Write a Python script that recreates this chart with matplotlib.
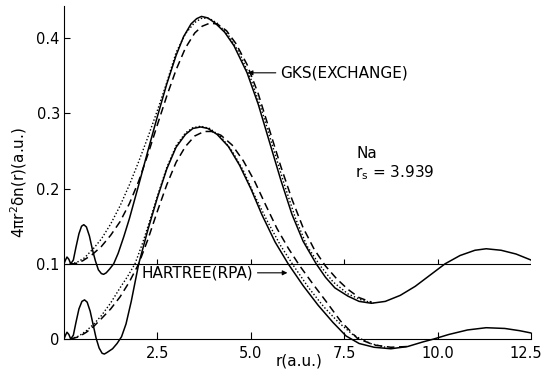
import numpy as np
import matplotlib
matplotlib.use('Agg')
import matplotlib.pyplot as plt
from matplotlib.transforms import ScaledTranslation

# GKS (exchange) curves, drawn on the 0.1 baseline
gks_solid_r = [0.00, 0.04, 0.08, 0.13, 0.18, 0.25, 0.32, 0.40, 0.47, 0.53, 0.60, 0.68, 0.76, 0.84,
               0.92, 1.00, 1.06, 1.13, 1.22, 1.33, 1.45, 1.60, 1.75, 2.00, 2.25, 2.50, 2.75, 3.00,
               3.20, 3.40, 3.55, 3.68, 3.85, 4.05, 4.30, 4.55, 4.90, 5.20, 5.50, 5.80, 6.10, 6.40,
               6.75, 7.00, 7.25, 7.60, 7.90, 8.23, 8.60, 9.00, 9.40, 9.80, 10.20, 10.60, 11.00,
               11.30, 11.70, 12.10, 12.50]
gks_solid = [0.100, 0.105, 0.109, 0.106, 0.100, 0.105, 0.122, 0.140, 0.150, 0.152, 0.149, 0.137,
             0.119, 0.104, 0.092, 0.087, 0.086, 0.088, 0.093, 0.100, 0.114, 0.136, 0.160, 0.205,
             0.251, 0.296, 0.339, 0.377, 0.402, 0.419, 0.426, 0.429, 0.427, 0.420, 0.408, 0.390,
             0.354, 0.312, 0.262, 0.212, 0.166, 0.130, 0.100, 0.082, 0.068, 0.057, 0.050, 0.0475,
             0.050, 0.058, 0.070, 0.085, 0.100, 0.111, 0.118, 0.120, 0.118, 0.113, 0.105]

gks_dot_r = [0.18, 0.35, 0.55, 0.80, 1.00, 1.25, 1.50, 1.75, 2.00, 2.25, 2.50, 2.75, 3.00, 3.25,
             3.50, 3.70, 3.90, 4.10, 4.40, 4.70, 5.00, 5.30, 5.60, 5.90, 6.20, 6.50, 6.85, 7.20,
             7.60, 8.00, 8.30]
gks_dot = [0.100, 0.102, 0.108, 0.121, 0.133, 0.153, 0.177, 0.205, 0.236, 0.269, 0.304, 0.341,
           0.381, 0.406, 0.421, 0.427, 0.426, 0.420, 0.404, 0.380, 0.346, 0.303, 0.254, 0.205,
           0.160, 0.124, 0.098, 0.076, 0.060, 0.051, 0.048]

gks_dash_r = [0.15, 0.30, 0.50, 0.75, 1.00, 1.25, 1.50, 1.75, 2.00, 2.25, 2.50, 2.75, 3.00, 3.25,
              3.50, 3.70, 3.90, 4.10, 4.35, 4.60, 4.90, 5.20, 5.50, 5.80, 6.10, 6.40, 6.70, 7.00,
              7.30, 7.60, 7.90, 8.23]
gks_dash = [0.100, 0.100, 0.104, 0.112, 0.123, 0.138, 0.156, 0.180, 0.210, 0.246, 0.285, 0.323,
            0.358, 0.387, 0.407, 0.416, 0.420, 0.419, 0.410, 0.393, 0.365, 0.326, 0.278, 0.230,
            0.186, 0.148, 0.119, 0.097, 0.080, 0.066, 0.055, 0.049]

# Hartree (RPA) curves, drawn on the 0 baseline
hf_solid_r = [0.00, 0.04, 0.08, 0.13, 0.18, 0.25, 0.32, 0.40, 0.48, 0.55, 0.62, 0.70, 0.78, 0.86,
              0.94, 1.02, 1.08, 1.15, 1.30, 1.42, 1.54, 1.66, 1.80, 2.00, 2.25, 2.50, 2.75, 3.00,
              3.25, 3.45, 3.66, 3.85, 4.10, 4.40, 4.70, 5.00, 5.30, 5.65, 6.00, 6.40, 6.80, 7.20,
              7.55, 7.90, 8.30, 8.75, 9.20, 9.60, 9.90, 10.30, 10.80, 11.30, 11.80, 12.20, 12.50]
hf_solid = [0.000, 0.005, 0.009, 0.006, 0.000, 0.005, 0.022, 0.040, 0.050, 0.052, 0.049, 0.037,
            0.019, 0.001, -0.012, -0.019, -0.020, -0.018, -0.013, -0.006, 0.003, 0.020, 0.050,
            0.100, 0.146, 0.188, 0.226, 0.255, 0.272, 0.280, 0.282, 0.280, 0.272, 0.256, 0.231,
            0.200, 0.165, 0.129, 0.100, 0.071, 0.045, 0.022, 0.004, -0.006, -0.011, -0.013,
            -0.010, -0.004, 0.000, 0.006, 0.012, 0.015, 0.014, 0.011, 0.008]

hf_dot_r = [0.18, 0.40, 0.60, 0.80, 1.00, 1.25, 1.50, 1.70, 1.90, 2.10, 2.30, 2.50, 2.75, 3.00,
            3.25, 3.45, 3.66, 3.90, 4.20, 4.50, 4.80, 5.10, 5.45, 5.80, 6.15, 6.55, 6.95, 7.35,
            7.75, 8.20, 8.60]
hf_dot = [0.000, 0.004, 0.011, 0.020, 0.031, 0.048, 0.068, 0.083, 0.100, 0.127, 0.158, 0.190,
          0.228, 0.257, 0.274, 0.281, 0.283, 0.280, 0.269, 0.250, 0.224, 0.191, 0.156, 0.124,
          0.097, 0.068, 0.043, 0.022, 0.005, -0.006, -0.011]

hf_dash_r = [0.18, 0.40, 0.60, 0.80, 1.00, 1.25, 1.50, 1.75, 2.00, 2.25, 2.50, 2.75, 3.00, 3.25,
             3.50, 3.75, 3.95, 4.20, 4.50, 4.80, 5.10, 5.40, 5.70, 6.00, 6.30, 6.65, 7.00, 7.40,
             7.85, 8.30, 8.75, 9.20]
hf_dash = [0.000, 0.003, 0.009, 0.017, 0.027, 0.040, 0.056, 0.076, 0.100, 0.133, 0.170, 0.205,
           0.235, 0.256, 0.270, 0.276, 0.276, 0.271, 0.258, 0.237, 0.210, 0.178, 0.147, 0.121,
           0.098, 0.074, 0.051, 0.024, 0.001, -0.008, -0.011, -0.010]

xticks = [2.5, 5.0, 7.5, 10.0, 12.5]
xtick_labels = ['2.5', '5.0', '7.5', '10.0', '12.5']
yticks = [0, 0.1, 0.2, 0.3, 0.4]
ytick_labels = ['0', '0.1', '0.2', '0.3', '0.4']

fig = plt.figure(figsize=(5.44, 3.75), dpi=100)
ax = fig.add_axes([64/544, 0.0459, 467/544, 0.9424])
ax.set_xlim(0, 12.5)
ax.set_ylim(-0.025, 0.445)

lw = 1.1
dots = (0, (1, 1.5))
dash = (0, (5, 3))
ax.plot(gks_solid_r, gks_solid, color='black', lw=lw)
ax.plot(gks_dot_r, gks_dot, color='black', lw=1.0, ls=dots)
ax.plot(gks_dash_r, gks_dash, color='black', lw=lw, ls=dash)
ax.plot(hf_solid_r, hf_solid, color='black', lw=lw)
ax.plot(hf_dot_r, hf_dot, color='black', lw=1.0, ls=dots)
ax.plot(hf_dash_r, hf_dash, color='black', lw=lw, ls=dash)

# baseline for the GKS curves with its own small ticks
ax.plot([0, 12.5], [0.1, 0.1], color='black', lw=0.8)
ax.vlines(xticks, 0.1, 0.107, color='black', lw=0.8)

for s in ['top', 'right']:
    ax.spines[s].set_visible(False)
ax.spines['bottom'].set_position(('data', 0))
ax.spines['bottom'].set_bounds(0, 12.5)
ax.spines['left'].set_bounds(0, 0.443)
ax.spines['bottom'].set_linewidth(0.8)
ax.spines['left'].set_linewidth(0.8)

ax.set_xticks(xticks)
ax.set_xticklabels(xtick_labels)
ax.set_yticks(yticks)
ax.set_yticklabels(ytick_labels)
ax.tick_params(axis='x', direction='in', length=5, width=0.8, pad=5, labelsize=10.5)
ax.tick_params(axis='y', direction='in', length=4, width=0.8, pad=3, labelsize=10.5)

# the last label sits right at the figure edge; nudge it left a little
last = ax.get_xticklabels()[-1]
last.set_transform(last.get_transform() + ScaledTranslation(-4/72, 0, fig.dpi_scale_trans))

ax.annotate('GKS(EXCHANGE)', xy=(4.92, 0.354), xytext=(5.78, 0.354), fontsize=11,
            ha='left', va='center',
            arrowprops=dict(arrowstyle='-|>', lw=0.8, color='black', mutation_scale=7,
                            shrinkA=1, shrinkB=0))
ax.annotate('HARTREE(RPA)', xy=(5.98, 0.088), xytext=(2.08, 0.088), fontsize=11,
            ha='left', va='center',
            arrowprops=dict(arrowstyle='-|>', lw=0.8, color='black', mutation_scale=7,
                            shrinkA=1, shrinkB=0))
ax.text(7.84, 0.247, 'Na', fontsize=11, ha='left', va='center')
ax.text(7.79, 0.221, r'$\mathregular{r_s}$ = 3.939', fontsize=11, ha='left', va='center')

fig.text(19/544, 1 - 183/375, r'4$\mathregular{\pi}$r$^2$$\mathregular{\delta}$n(r)(a.u.)',
         rotation=90, fontsize=11, ha='center', va='center')
fig.text(299/544, 1 - 361/375, 'r(a.u.)', fontsize=11, ha='center', va='center')

fig.savefig('out.png', dpi=100)
